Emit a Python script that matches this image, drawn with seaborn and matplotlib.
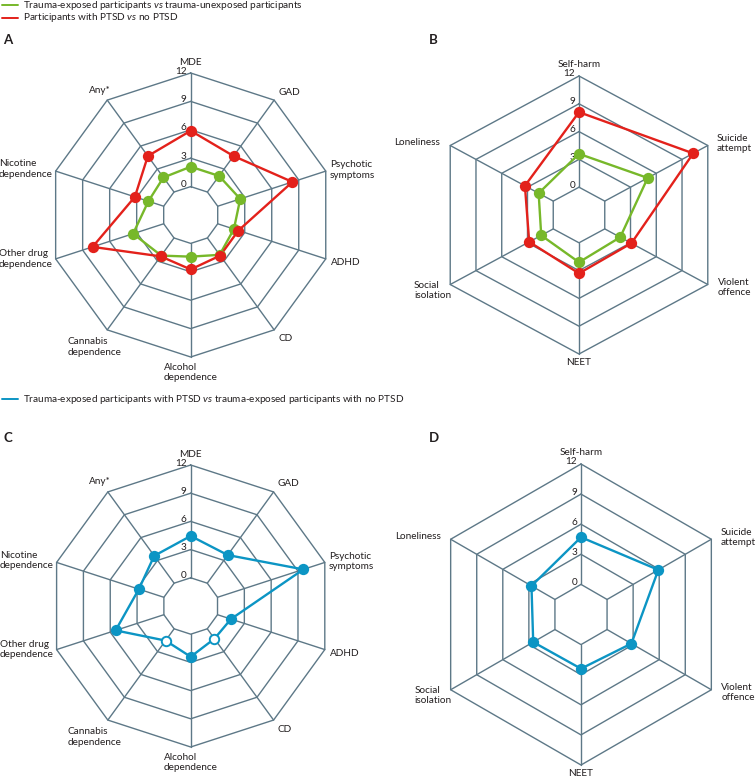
import numpy as np
import pandas as pd
import seaborn as sns
import matplotlib.pyplot as plt
from matplotlib.lines import Line2D

#%% data
cat_mh = ["MDE", "GAD", "Psychotic\nsymptoms", "ADHD", "CD", "Alcohol\ndependence",
          "Cannabis\ndependence", "Other drug\ndependence", "Nicotine\ndependence", "Any*"]
cat_fn = ["Self-harm", "Suicide\nattempt", "Violent\noffence", "NEET",
          "Social\nisolation", "Loneliness"]

exposed_a = [2.1, 2.1, 2.5, 1.8, 2.2, 1.4, 2.3, 3.4, 1.7, 1.9]
ptsd_a = [5.9, 4.7, 8.3, 2.3, 2.3, 2.75, 2.4, 7.9, 3.2, 4.7]
exposed_b = [3.6, 5.0, 1.8, 2.1, 1.4, 1.7]
ptsd_b = [8.1, 10.3, 3.1, 3.3, 2.8, 3.3]
ptsd_exposed_c = [4.45, 3.7, 9.6, 1.5, 1.3, 2.4, 1.55, 5.4, 2.8, 3.6]
sig_c = [True, True, True, True, False, True, False, True, True, True]
ptsd_exposed_d = [4.7, 5.9, 2.8, 2.4, 2.5, 2.7]
ticks = [0, 3, 6, 9, 12]

legend_ab = ["Trauma-exposed participants $\\mathit{vs}$ trauma-unexposed participants",
             "Participants with PTSD $\\mathit{vs}$ no PTSD"]
legend_cd = "Trauma-exposed participants with PTSD $\\mathit{vs}$ trauma-exposed participants with no PTSD"

#%% style
GREEN = "#77b82a"
RED = "#e3211b"
BLUE = "#0c95c4"
GRID = "#5d7887"
TXT = "#231f20"
FS = 7.2
W, H = 755, 779

sns.set_theme(style="white")
plt.rcParams["font.family"] = ["Lato", "DejaVu Sans"]
plt.rcParams["mathtext.fontset"] = "custom"
plt.rcParams["mathtext.rm"] = "Lato"
plt.rcParams["mathtext.it"] = "Lato:italic"
plt.rcParams["text.color"] = TXT

# label placement: ha, va, dx, dy (pixels from the outer vertex)
lay_mh = [("center", "bottom", 0, 6), ("left", "center", 4, 8), ("left", "center", 4, 1),
          ("left", "center", 5, -4), ("left", "center", 4, -9), ("center", "top", 0, -6),
          ("left", "center", -40, -17), ("right", "center", -3, 0), ("right", "center", -3, 2),
          ("right", "center", 3, 10)]
lay_fn = [("center", "bottom", 0, 7), ("left", "center", 9, 2), ("left", "center", 10, -3),
          ("center", "top", 0, -4), ("right", "center", 1, -6), ("right", "center", -10, 3)]

fig = plt.figure(figsize=(W / 100, H / 100), dpi=100)


def radar(cx, cy, rx, ry, cats, lay):
    ax = fig.add_axes([(cx - rx) / W, 1 - (cy + ry) / H, 2 * rx / W, 2 * ry / H], projection="polar")
    if rx != ry:
        ax.set_aspect("auto")
    n = len(cats)
    theta = np.linspace(0, 2 * np.pi, n, endpoint=False)
    ax.set_theta_zero_location("N")
    ax.set_theta_direction(-1)
    ax.set_rorigin(-3)
    ax.grid(False)
    # polar axes switch the inner spine back on when drawing, so make it invisible by width
    for sp in ax.spines.values():
        sp.set_linewidth(0)
        sp.set_edgecolor("none")
    ax.patch.set_alpha(0)
    tc = np.append(theta, theta[0])
    for t in ticks:
        ax.plot(tc, [t] * (n + 1), color=GRID, lw=1.0, zorder=1, clip_on=False)
    for th in theta:
        ax.plot([th, th], [0, 12], color=GRID, lw=1.0, zorder=1, clip_on=False)
    for th, c, (ha, va, dx, dy) in zip(theta, cats, lay):
        ax.annotate(c, (th, 12), xytext=(dx, dy), textcoords="offset pixels", ha=ha, va=va,
                    multialignment="left", fontsize=FS, annotation_clip=False)
    for t in ticks:
        ax.annotate(str(t), (0, t), xytext=(-4, 2), textcoords="offset pixels",
                    ha="right", va="center", fontsize=FS, annotation_clip=False)
    return ax, theta


def series(ax, theta, vals, color, filled=None):
    vals = list(vals)
    line = pd.DataFrame({"theta": np.append(theta, theta[0]), "val": vals + vals[:1]})
    sns.lineplot(data=line, x="theta", y="val", sort=False, estimator=None,
                 color=color, lw=1.7, ax=ax, zorder=3)
    if filled is None:
        filled = [True] * len(vals)
    pts = pd.DataFrame({"theta": theta, "val": vals, "filled": filled})
    sns.scatterplot(data=pts[pts.filled], x="theta", y="val", color=color, s=66,
                    linewidth=0, ax=ax, zorder=4)
    if (~pts.filled).any():
        sns.scatterplot(data=pts[~pts.filled], x="theta", y="val", facecolor="white",
                        edgecolor=color, s=46, linewidth=1.4, ax=ax, zorder=4)


def finish(ax):
    ax.set_ylim(0, 12)
    ax.set_xticks([])
    ax.set_yticks([])
    ax.set_xlabel("")
    ax.set_ylabel("")


#%% panels
ax, th = radar(190.7, 215, 142, 142, cat_mh, lay_mh)
series(ax, th, exposed_a, GREEN)
series(ax, th, ptsd_a, RED)
finish(ax)

ax, th = radar(579, 215, 148.7, 139, cat_fn, lay_fn)
series(ax, th, exposed_b, GREEN)
series(ax, th, ptsd_b, RED)
finish(ax)

ax, th = radar(190.7, 606, 141, 141, cat_mh, lay_mh)
series(ax, th, ptsd_exposed_c, BLUE, sig_c)
finish(ax)

ax, th = radar(581, 614.5, 150.5, 150.5, cat_fn, lay_fn)
series(ax, th, ptsd_exposed_d, BLUE)
finish(ax)

#%% legends and panel letters
def legend_entry(y, color, text):
    fig.add_artist(Line2D([2 / W, 18 / W], [1 - y / H] * 2, color=color, lw=1.4))
    fig.text(23 / W, 1 - y / H, text, va="center", fontsize=FS)


legend_entry(5, GREEN, legend_ab[0])
legend_entry(18, RED, legend_ab[1])
legend_entry(399, BLUE, legend_cd)

for letter, x, y in [("A", 3, 39.5), ("B", 429, 39.5), ("C", 3, 438), ("D", 429, 438)]:
    fig.text(x / W, 1 - y / H, letter, fontsize=9.5, fontweight="bold", va="center")

fig.savefig("out.png", dpi=100)
